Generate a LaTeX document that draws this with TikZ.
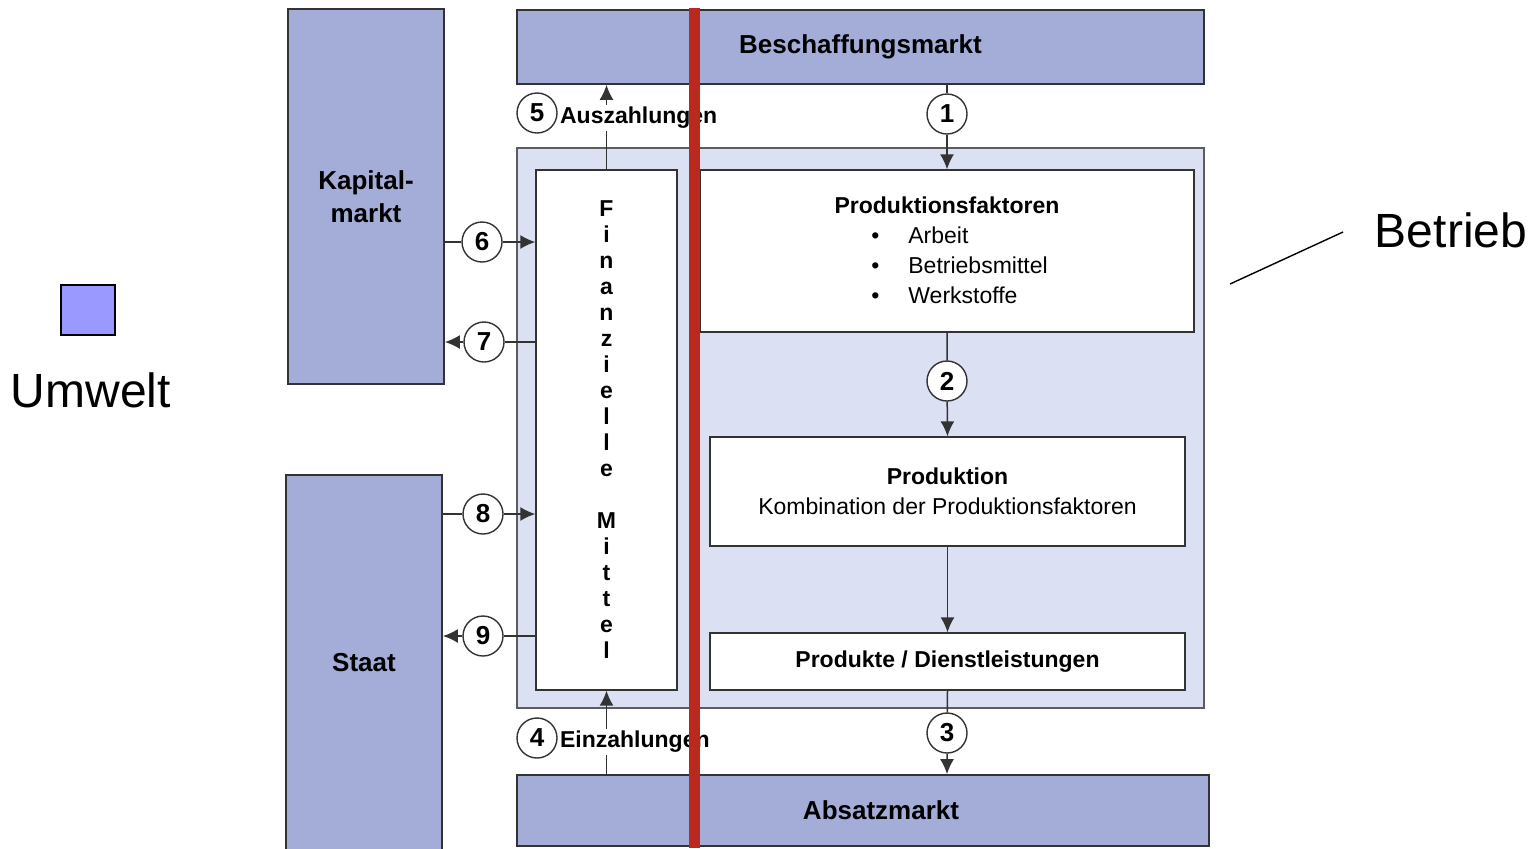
\documentclass[tikz,border=0pt]{standalone}
\usepackage{fontspec}
\setmainfont{Liberation Sans}
\usetikzlibrary{positioning, arrows.meta}
\definecolor{marktblau}{HTML}{A3ADD8}
\definecolor{betriebblau}{HTML}{DCE0F3}
\definecolor{legendeblau}{HTML}{9999FF}
\definecolor{rahmen}{HTML}{333333}
\definecolor{trennrot}{HTML}{BA281E}
\tikzset{>={Latex[length=7.5pt,width=7pt]}, % filled arrow heads
markt/.style={draw=rahmen, line width=0.9pt, fill=marktblau, align=center,
  font=\fontsize{13}{16.5}\selectfont\bfseries}, % boxes of the environment
betriebsbox/.style={draw=rahmen!80, line width=0.8pt, fill=betriebblau},
feld/.style={draw=rahmen, line width=0.7pt, fill=white,
  font=\fontsize{11.5}{15}\selectfont}, % white boxes inside the firm
nr/.style={circle, draw=rahmen, line width=0.7pt, fill=white, minimum size=20pt,
  inner sep=0pt, font=\fontsize{13}{15}\selectfont\bfseries}, % numbered circles
fluss/.style={draw=rahmen, line width=0.75pt}, % connectors
gross/.style={font=\fontsize{24}{28}\selectfont},
}

\begin{document}
\begin{tikzpicture}[x=0.5pt, y=-0.5pt]
  \useasboundingbox (0,0) rectangle (1540,848);

  % Umwelt
  \node[markt, minimum width=78pt, minimum height=187.5pt] (kap) at (366,196.5) {Kapital-\\markt};
  \node[markt, minimum width=78pt, minimum height=187.5pt] (staat) at (364,662.5) {Staat};
  \node[markt, minimum width=343.5pt, minimum height=37pt] (besch) at (860.5,47) {Beschaffungsmarkt};
  \node[markt, minimum width=346pt, minimum height=35.5pt] (absatz) at (863,810.5) {\hspace*{18pt}Absatzmarkt};

  % Betrieb
  \node[betriebsbox, minimum width=343.5pt, minimum height=280pt] (betr) at (860.5,428) {};
  \node[feld, minimum width=70.5pt, minimum height=260pt, align=center,
    font=\fontsize{11.5}{13}\selectfont\bfseries] (fin) at (606.5,430)
    {F\\i\\n\\a\\n\\z\\i\\e\\l\\l\\e\\[13pt]M\\i\\t\\t\\e\\l};
  \node[feld, minimum width=247pt, minimum height=81pt] (pf) at (947,251) {};
  \node[font=\fontsize{11.5}{15}\selectfont\bfseries] (pftitel) at (947,205) {Produktionsfaktoren};
  \node[anchor=west, inner sep=0pt, align=left, font=\fontsize{11.5}{15}\selectfont] (pfliste) at (871,265)
    {\makebox[18.5pt][l]{\textbullet}Arbeit\\\makebox[18.5pt][l]{\textbullet}Betriebsmittel\\\makebox[18.5pt][l]{\textbullet}Werkstoffe};
  \node[feld, minimum width=237.5pt, minimum height=54.5pt, align=center] (prod) at (947.5,491.5)
    {\textbf{Produktion}\\Kombination der Produktionsfaktoren};
  \node[feld, minimum width=237.5pt, minimum height=28.5pt, font=\fontsize{11.5}{15}\selectfont\bfseries] (produkte) at (947.5,661.5)
    {Produkte / Dienstleistungen};

  % Nummern
  \node[nr] (n1) at (947,114) {1};
  \node[nr] (n2) at (947,381) {2};
  \node[nr] (n3) at (947,733) {3};
  \node[nr] (n6) at (482,242) {6};
  \node[nr] (n7) at (484,342) {7};
  \node[nr] (n8) at (483,514) {8};
  \node[nr] (n9) at (483,636) {9};

  % Fluesse
  \draw[fluss, ->] (besch.south -| pf.north) -- (n1) -- (pf.north);
  \draw[fluss, ->] (pf.south) -- (n2) -- (prod.north);
  \draw[fluss, ->] (prod.south) -- (produkte.north);
  \draw[fluss, ->] (produkte.south) -- (n3) -- (absatz.north -| n3);
  \draw[fluss, ->] (absatz.north -| fin.south) -- (fin.south);
  \draw[fluss, ->] (fin.north) -- (besch.south -| fin.north);
  \draw[fluss, ->] (kap.east |- n6) -- (n6) -- (fin.west |- n6);
  \draw[fluss, ->] (fin.west |- n7) -- (n7) -- (kap.east |- n7);
  \draw[fluss, ->] (staat.east |- n8) -- (n8) -- (fin.west |- n8);
  \draw[fluss, ->] (fin.west |- n9) -- (n9) -- (staat.east |- n9);

  \node[nr] (n5) at (537,113) {5};
  \node[anchor=west, fill=white, inner sep=1pt, yshift=-2.5pt, font=\fontsize{11.5}{15}\selectfont\bfseries] (aus) at (n5.east) {Auszahlungen};
  \node[nr] (n4) at (537,738) {4};
  \node[anchor=west, fill=white, inner sep=1pt, yshift=-2pt, font=\fontsize{11.5}{15}\selectfont\bfseries] (ein) at (n4.east) {Einzahlungen};

  % Legende
  \node[draw=black, line width=0.6pt, fill=legendeblau, minimum width=27pt, minimum height=25pt] (legende) at (88,310) {};
  \node[gross] (umwelt) at (91,390) {Umwelt};
  \node[gross] (betrieb) at (1451,230) {Betrieb};
  \coordinate (zeiger) at (1230,284);
  \coordinate (zeigerende) at (1343,232);
  \draw[line width=0.7pt] (zeiger) -- (zeigerende);

  % Trennlinie
  \coordinate (rot1) at (694.5,8);
  \coordinate (rot2) at (694.5,848);
  \draw[trennrot, line width=5.5pt] (rot1) -- (rot2);
\end{tikzpicture}
\end{document}
